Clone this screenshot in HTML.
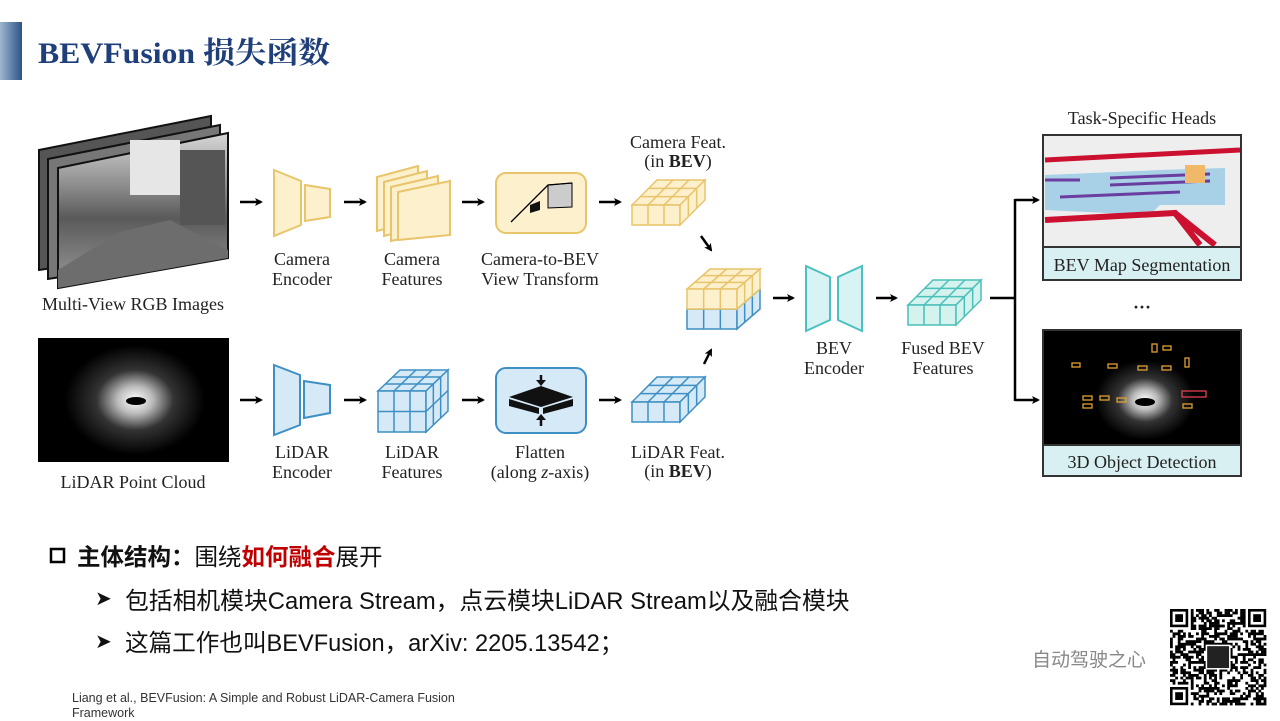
<!DOCTYPE html>
<html><head><meta charset="utf-8">
<style>
html,body{margin:0;padding:0;background:#fff;}
body{width:1280px;height:720px;overflow:hidden;position:relative;font-family:"Liberation Sans","Noto Sans CJK SC",sans-serif;}
svg{position:absolute;left:0;top:0;}
.t{font-family:"Liberation Serif",serif;font-size:18px;fill:#222;text-anchor:middle;}
.cn{position:absolute;white-space:nowrap;color:#111;}
</style></head><body>
<svg id="s" width="1280" height="720" viewBox="0 0 1280 720">
<defs>
<linearGradient id="bar" x1="0" x2="1"><stop offset="0" stop-color="#9fb6cf"/><stop offset="1" stop-color="#2c5485"/></linearGradient>
<linearGradient id="photo" x1="0" y1="0" x2="0" y2="1"><stop offset="0" stop-color="#d8d8d8"/><stop offset="0.35" stop-color="#8a8a8a"/><stop offset="0.55" stop-color="#5a5a5a"/><stop offset="1" stop-color="#9a9a9a"/></linearGradient>
<radialGradient id="lid" cx="0.5" cy="0.5" r="0.5"><stop offset="0" stop-color="#fff"/><stop offset="0.25" stop-color="#bbb"/><stop offset="0.55" stop-color="#333"/><stop offset="1" stop-color="#000"/></radialGradient>
<marker id="ah" markerWidth="8" markerHeight="8" refX="6" refY="4" orient="auto" markerUnits="userSpaceOnUse"><path d="M0,0 L8,4 L0,8 L2,4z" fill="#000"/></marker>
</defs>
<rect x="0" y="22" width="22" height="58" fill="url(#bar)"/>
<text x="38" y="63" font-family="Liberation Serif,Noto Serif CJK SC,serif" font-size="30" font-weight="bold" fill="#1f3f7a" textLength="292" lengthAdjust="spacingAndGlyphs">BEVFusion 损失函数</text>

<!-- multi view images -->
<polygon points="39,150 211,116 211,245 39,270" fill="#555" stroke="#111" stroke-width="2"/>
<polygon points="48,159 220,125 220,252 48,279" fill="#777" stroke="#111" stroke-width="2"/>
<polygon points="58,168 228,133 228,258 58,288" fill="url(#photo)" stroke="#111" stroke-width="2"/>
<polygon points="120,232 170,220 228,250 228,258 58,288 58,270" fill="#6d6d6d"/>
<rect x="130" y="140" width="50" height="55" fill="#e6e6e6"/>
<rect x="180" y="150" width="45" height="75" fill="#555"/>
<text class="t" x="133" y="310">Multi-View RGB Images</text>

<rect x="38" y="338" width="191" height="124" fill="#000"/>
<ellipse cx="135" cy="400" rx="70" ry="55" fill="url(#lid)"/>
<ellipse cx="136" cy="401" rx="10" ry="4" fill="#000"/>
<text class="t" x="133" y="488">LiDAR Point Cloud</text>

<!-- arrows -->
<g stroke="#000" stroke-width="2.5" marker-end="url(#ah)">
<line x1="240" y1="202" x2="261" y2="202"/><line x1="344" y1="202" x2="365" y2="202"/>
<line x1="462" y1="202" x2="483" y2="202"/><line x1="599" y1="202" x2="620" y2="202"/>
<line x1="240" y1="400" x2="261" y2="400"/><line x1="344" y1="400" x2="365" y2="400"/>
<line x1="462" y1="400" x2="483" y2="400"/><line x1="599" y1="400" x2="620" y2="400"/>
<line x1="701" y1="236" x2="711" y2="250"/><line x1="704" y1="364" x2="711" y2="350"/>
<line x1="773" y1="298" x2="793" y2="298"/><line x1="876" y1="298" x2="896" y2="298"/>
<line x1="1015" y1="200" x2="1038" y2="200"/><line x1="1015" y1="400" x2="1038" y2="400"/>
</g>
<polyline points="990,298 1015,298" stroke="#000" stroke-width="2.5" fill="none"/>
<line x1="1015" y1="199" x2="1015" y2="401" stroke="#000" stroke-width="2.5"/>

<!-- camera encoder -->
<polygon points="274,170 301,181 301,225 274,236" fill="#fdf0cc" stroke="#e8c46a" stroke-width="2"/>
<polygon points="305,185 330,189 330,217 305,221" fill="#fdf0cc" stroke="#e8c46a" stroke-width="2"/>
<text class="t" x="302" y="265">Camera</text><text class="t" x="302" y="285">Encoder</text>
<g fill="#fdf0cc" stroke="#e8c46a" stroke-width="2">
<polygon points="377,177 418,166 418,220 377,231"/>
<polygon points="384,182 427,171 427,225 384,236"/>
<polygon points="391,187 438,176 438,230 391,241"/>
<polygon points="398,192 450,181 450,235 398,240"/>
</g>
<text class="t" x="412" y="265">Camera</text><text class="t" x="412" y="285">Features</text>
<rect x="496" y="173" width="90" height="60" rx="10" fill="#fdf0cc" stroke="#e8c46a" stroke-width="2"/>
<polygon points="548,185 572,183 572,207 548,208" fill="#ccc" stroke="#000" stroke-width="1"/>
<polyline points="511,222 548,185 572,183 M511,222 548,208 572,207 M511,222 572,207" fill="none" stroke="#000" stroke-width="1.3"/>
<polygon points="530,205 540,201 540,210 530,213" fill="#111"/>
<text class="t" x="540" y="265">Camera-to-BEV</text><text class="t" x="540" y="285">View Transform</text>
<rect x="496" y="368" width="90" height="65" rx="10" fill="#d6e9f7" stroke="#3d8fc4" stroke-width="2"/>
<polygon points="509,397 541,386 573,397 541,407" fill="#111"/>
<polygon points="509,399 509,406 539,414 539,408" fill="#111"/>
<polygon points="573,399 573,406 543,414 543,408" fill="#111"/>
<line x1="541" y1="375" x2="541" y2="383" stroke="#111" stroke-width="2.5"/><polygon points="536,380 546,380 541,386" fill="#111"/>
<line x1="541" y1="418" x2="541" y2="426" stroke="#111" stroke-width="2.5"/><polygon points="536,420 546,420 541,414" fill="#111"/>
<text class="t" x="540" y="458">Flatten</text><text class="t" x="540" y="478">(along <tspan font-style="italic">z</tspan>-axis)</text>

<polygon points="274,365 300,375 300,425 274,435" fill="#d6e9f7" stroke="#3d8fc4" stroke-width="2"/>
<polygon points="304,381 330,385 330,413 304,418" fill="#d6e9f7" stroke="#3d8fc4" stroke-width="2"/>
<text class="t" x="302" y="458">LiDAR</text><text class="t" x="302" y="478">Encoder</text>
<text class="t" x="412" y="458">LiDAR</text><text class="t" x="412" y="478">Features</text>
<text class="t" x="678" y="148">Camera Feat.</text><text class="t" x="678" y="167">(in <tspan font-weight="bold">BEV</tspan>)</text>
<text class="t" x="678" y="458">LiDAR Feat.</text><text class="t" x="678" y="477">(in <tspan font-weight="bold">BEV</tspan>)</text>

<polygon points="806,266 830,277 830,320 806,331" fill="#d8f3f3" stroke="#4cc0c0" stroke-width="2"/>
<polygon points="862,266 838,277 838,320 862,331" fill="#d8f3f3" stroke="#4cc0c0" stroke-width="2"/>
<text class="t" x="834" y="354">BEV</text><text class="t" x="834" y="374">Encoder</text>
<text class="t" x="943" y="354">Fused BEV</text><text class="t" x="943" y="374">Features</text>

<g id="cubes"></g>

<text class="t" x="1142" y="124">Task-Specific Heads</text>
<rect x="1043" y="135" width="198" height="145" fill="#eeeeee" stroke="#333" stroke-width="2"/>
<path d="M1045,160 L1240,150" stroke="#cc1030" stroke-width="5"/>
<path d="M1045,175 L1160,170 L1225,168 L1225,205 L1160,205 L1150,215 L1045,210z" fill="#a8d0e6"/>
<path d="M1110,178 L1210,174 M1045,180 L1080,180 M1110,185 L1210,181 M1060,197 L1180,192" stroke="#6a3da0" stroke-width="3"/>
<rect x="1185" y="165" width="20" height="18" fill="#f0b868"/>
<path d="M1045,220 L1175,213 L1200,245 M1175,213 L1215,245" stroke="#cc1030" stroke-width="6" fill="none"/>
<rect x="1043" y="247" width="198" height="33" fill="#d8f0f2" stroke="#333" stroke-width="2"/>
<text class="t" x="1142" y="271">BEV Map Segmentation</text>
<text class="t" x="1142" y="313" font-weight="bold">···</text>
<rect x="1043" y="330" width="198" height="146" fill="#000" stroke="#333" stroke-width="2"/>
<ellipse cx="1145" cy="400" rx="50" ry="40" fill="url(#lid)"/>
<ellipse cx="1145" cy="402" rx="10" ry="4" fill="#000"/>
<g fill="none" stroke="#e0a030" stroke-width="1.3">
<rect x="1072" y="363" width="8" height="4"/><rect x="1108" y="364" width="9" height="4"/><rect x="1138" y="366" width="9" height="4"/><rect x="1162" y="366" width="9" height="4"/><rect x="1152" y="344" width="5" height="8"/><rect x="1163" y="346" width="8" height="4"/><rect x="1185" y="358" width="4" height="9"/><rect x="1083" y="396" width="9" height="4"/><rect x="1100" y="396" width="9" height="4"/><rect x="1117" y="398" width="9" height="4"/><rect x="1083" y="404" width="9" height="4"/><rect x="1183" y="404" width="9" height="4"/>
</g>
<rect x="1182" y="391" width="24" height="6" fill="none" stroke="#e04050" stroke-width="1.3"/>
<rect x="1043" y="445" width="198" height="31" fill="#d8f0f2" stroke="#333" stroke-width="2"/>
<text class="t" x="1142" y="468">3D Object Detection</text>

<rect x="51" y="549" width="13" height="13" fill="none" stroke="#000" stroke-width="2.5"/>
<g id="qr"></g>
</svg>

<div class="cn" style="left:77px;top:538px;font-size:23.5px;font-weight:bold;">主体结构：<span style="font-weight:normal">围绕</span><span style="color:#c00000">如何融合</span><span style="font-weight:normal">展开</span></div>
<div class="cn" style="left:95px;top:586px;font-size:20px;">➤</div>
<div class="cn" style="left:125px;top:581px;font-size:23.8px;">包括相机模块Camera Stream，点云模块LiDAR Stream以及融合模块</div>
<div class="cn" style="left:95px;top:629px;font-size:20px;">➤</div>
<div class="cn" style="left:125px;top:624px;font-size:23.6px;">这篇工作也叫BEVFusion，arXiv: 2205.13542；</div>
<div class="cn" style="left:72px;top:691px;font-size:12.5px;color:#333;line-height:15px;">Liang et al., BEVFusion:  A Simple and Robust LiDAR-Camera Fusion<br>Framework</div>
<div class="cn" style="left:1032px;top:645px;font-size:19px;color:#888;">自动驾驶之心</div>

<script>
var NS="http://www.w3.org/2000/svg",g=document.getElementById("cubes");
function el(t,a){var e=document.createElementNS(NS,t);for(var k in a)e.setAttribute(k,a[k]);g.appendChild(e);return e;}
function cube(x,y,w,h,dx,dy,cols,rows,dc,fill,st,top){
 var sw=1.5;
 if(top!==false){el("polygon",{points:[x,y,x+dx,y-dy,x+w+dx,y-dy,x+w,y].join(","),fill:fill,stroke:st,"stroke-width":sw});
 for(var i=1;i<cols;i++){var xx=x+w*i/cols;el("line",{x1:xx,y1:y,x2:xx+dx,y2:y-dy,stroke:st,"stroke-width":sw});}
 for(var j=1;j<dc;j++){el("line",{x1:x+dx*j/dc,y1:y-dy*j/dc,x2:x+w+dx*j/dc,y2:y-dy*j/dc,stroke:st,"stroke-width":sw});}}
 el("rect",{x:x,y:y,width:w,height:h,fill:fill,stroke:st,"stroke-width":sw});
 for(var i=1;i<cols;i++){var xx=x+w*i/cols;el("line",{x1:xx,y1:y,x2:xx,y2:y+h,stroke:st,"stroke-width":sw});}
 for(var r=1;r<rows;r++){var yy=y+h*r/rows;el("line",{x1:x,y1:yy,x2:x+w,y2:yy,stroke:st,"stroke-width":sw});}
 el("polygon",{points:[x+w,y,x+w+dx,y-dy,x+w+dx,y+h-dy,x+w,y+h].join(","),fill:fill,stroke:st,"stroke-width":sw});
 for(var j=1;j<dc;j++){var px=x+w+dx*j/dc,py=y-dy*j/dc;el("line",{x1:px,y1:py,x2:px,y2:py+h,stroke:st,"stroke-width":sw});}
 for(var r=1;r<rows;r++){var yy=y+h*r/rows;el("line",{x1:x+w,y1:yy,x2:x+w+dx,y2:yy-dy,stroke:st,"stroke-width":sw});}
}
var Y="#fdf0cc",YS="#e8c46a",B="#d6e9f7",BS="#3d8fc4",T="#d4f3ef",TS="#4bbfb8";
cube(632,205,48,20,25,25,3,1,3,Y,YS);
cube(632,402,48,20,25,25,3,1,3,B,BS);
cube(378,391,48,41,22,21,3,2,3,B,BS);
cube(687,309,50,20,23,20,3,1,3,B,BS,false);
cube(687,289,50,20,23,20,3,1,3,Y,YS);
cube(908,305,48,20,25,25,3,1,3,T,TS);
var q=document.getElementById("qr"),s=37,cs=2.6,ox=1170,oy=609,seed=7;
function rnd(){seed=(seed*9301+49297)%233280;return seed/233280;}
function qr(t,a){var e=document.createElementNS(NS,t);for(var k in a)e.setAttribute(k,a[k]);q.appendChild(e);}
for(var i=0;i<s;i++)for(var j=0;j<s;j++){
 var f=(i<8&&j<8)||(i<8&&j>=s-8)||(i>=s-8&&j<8);
 if(!f&&rnd()<0.5)qr("rect",{x:ox+j*cs,y:oy+i*cs,width:cs+0.2,height:cs+0.2,fill:"#000"});}
[[0,0],[0,s-7],[s-7,0]].forEach(function(p){var x=ox+p[1]*cs,y=oy+p[0]*cs;
 qr("rect",{x:x+cs/2,y:y+cs/2,width:6*cs,height:6*cs,fill:"none",stroke:"#000","stroke-width":cs});
 qr("rect",{x:x+2*cs,y:y+2*cs,width:3*cs,height:3*cs,fill:"#000"});});
qr("rect",{x:ox+14*cs,y:oy+14*cs,width:9*cs,height:9*cs,fill:"#222",stroke:"#fff","stroke-width":1.5});
</script>
</body></html>
